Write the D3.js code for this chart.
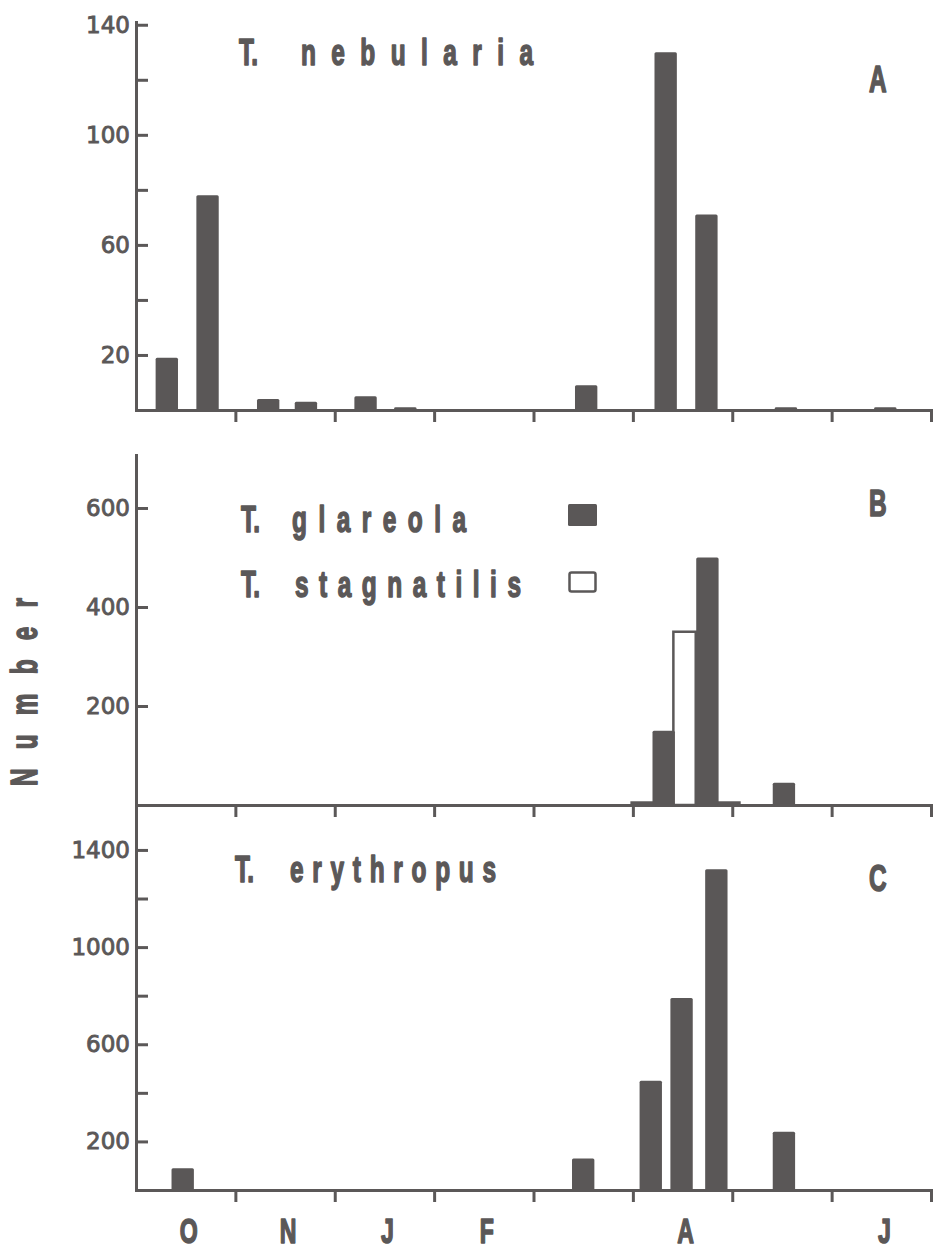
<!DOCTYPE html>
<html>
<head>
<meta charset="utf-8">
<script src="https://cdn.jsdelivr.net/npm/d3@7"></script>
<style>
  html, body { margin: 0; padding: 0; background: #ffffff; }
  svg { display: block; }
</style>
</head>
<body>
<svg id="chart" width="934" height="1253"></svg>
<script>
// Month boundaries on the shared time axis (index 0 = October)
const monthLabels = ["O", "N", "J", "F", "", "A", "", "J"];

// Panel A: T. nebularia (positions in months from the start of October)
const nebulariaPos = [0.31, 0.72, 1.33, 1.71, 2.31, 2.71, 4.53, 5.33, 5.74, 6.54, 7.54];
const nebulariaVal = [19, 78, 4, 3, 5, 1, 9, 130, 71, 1, 1];

// Panel B: T. glareola (filled) and T. stagnatilis (open)
const glareolaPos = [5.31, 5.75, 6.52];
const glareolaVal = [150, 500, 45];
const stagnatilisPos = [5.10, 5.52, 5.96];
const stagnatilisVal = [5, 350, 5];

// Panel C: T. erythropus
const erythropusPos = [0.47, 4.50, 5.18, 5.49, 5.84, 6.52];
const erythropusVal = [90, 130, 450, 790, 1320, 240];

// Axis ticks
const ticksA = [20, 40, 60, 80, 100, 120, 140];
const labelsA = [20, 60, 100, 140];
const ticksB = [200, 400, 600];
const labelsB = [200, 400, 600];
const ticksC = [200, 400, 600, 800, 1000, 1200, 1400];
const labelsC = [200, 600, 1000, 1400];

const ink = "#5b5858";
const barFill = "#5a5757";
const boldFont = "'Liberation Sans','Arial',sans-serif";
const roundFont = "'DejaVu Sans','Noto Sans',sans-serif";
const narrow = 0.66;   // horizontal squeeze for the condensed lettering

const svg = d3.select("#chart");
svg.append("rect").attr("width", 934).attr("height", 1253).attr("fill", "#ffffff");

const x = d3.scaleLinear().domain([0, 8]).range([136, 931]);
const barW = 0.225;
const bw = x(barW) - x(0);

const panels = [
  { y: d3.scaleLinear().domain([0, 141]).range([410, 22]), ticks: ticksA, labels: labelsA },
  { y: d3.scaleLinear().domain([0, 707]).range([805, 455]), ticks: ticksB, labels: labelsB },
  { y: d3.scaleLinear().domain([0, 1585]).range([1190, 805]), ticks: ticksC, labels: labelsC }
];

function styleAxis(g) {
  g.selectAll("path.domain").attr("stroke", ink).attr("stroke-width", 3).attr("stroke-linecap", "square");
  g.selectAll(".tick line").attr("stroke", ink).attr("stroke-width", 3);
  g.selectAll(".tick text").attr("fill", ink).attr("font-family", roundFont).attr("font-size", 23)
    .attr("stroke", ink).attr("stroke-width", 0.9);
}

function drawBars(g, yScale, pos, val) {
  g.selectAll("rect")
    .data(pos.map((p, i) => ({ p, v: val[i] })))
    .enter().append("rect")
    .attr("x", d => x(d.p) - bw / 2)
    .attr("width", bw)
    .attr("y", d => yScale(d.v))
    .attr("height", d => yScale(0) - yScale(d.v))
    .attr("rx", 1.5)
    .attr("fill", barFill);
}

// Condensed bold lettering: squeezed horizontally around its anchor point
function label(tx, ty, str, opts = {}) {
  const size = opts.size || 37;
  const t = svg.append("text")
    .attr("transform", `translate(${tx},${ty})${opts.rotate ? " rotate(" + opts.rotate + ")" : ""} scale(${narrow},1)`)
    .attr("font-family", boldFont)
    .attr("font-weight", "bold")
    .attr("font-size", size)
    .attr("fill", ink)
    .attr("stroke", ink)
    .attr("stroke-width", 1.6)
    .attr("stroke-linejoin", "round")
    .attr("text-anchor", opts.anchor || "start")
    .text(str);
  if (opts.len) t.attr("textLength", opts.len / narrow).attr("lengthAdjust", "spacing");
  return t;
}

// Axes for each panel
panels.forEach(pn => {
  const yAxis = d3.axisLeft(pn.y)
    .tickValues(pn.ticks)
    .tickSize(-12)
    .tickSizeOuter(0)
    .tickPadding(6)
    .tickFormat(d => pn.labels.includes(d) ? d : "");
  const gy = svg.append("g").attr("transform", `translate(${x(0)},0)`).call(yAxis);
  styleAxis(gy);

  const xAxis = d3.axisBottom(x)
    .tickValues(d3.range(1, 9))
    .tickSize(12)
    .tickSizeOuter(0)
    .tickFormat("");
  const gx = svg.append("g").attr("transform", `translate(0,${pn.y(0)})`).call(xAxis);
  styleAxis(gx);
});

// Panel A bars
drawBars(svg.append("g"), panels[0].y, nebulariaPos, nebulariaVal);

// Panel B: open bars first, filled bars over them
const yB = panels[1].y;
svg.append("g").selectAll("rect")
  .data(stagnatilisPos.map((p, i) => ({ p, v: stagnatilisVal[i] })))
  .enter().append("rect")
  .attr("x", d => x(d.p) - bw / 2)
  .attr("width", bw)
  .attr("y", d => yB(d.v))
  .attr("height", d => yB(0) - yB(d.v))
  .attr("fill", "#ffffff")
  .attr("stroke", ink)
  .attr("stroke-width", 2.5);
drawBars(svg.append("g"), yB, glareolaPos, glareolaVal);

// Panel C bars
drawBars(svg.append("g"), panels[2].y, erythropusPos, erythropusVal);

// Month labels under the bottom axis
monthLabels.forEach((m, i) => {
  if (m) label(x(i + 0.5) + 3, 1243, m, { anchor: "middle", size: 35 });
});

// Species titles
function title(tx, nx, by, name, len) {
  label(tx, by, "T.");
  label(nx, by, name, { len });
}
title(239, 301, 65, "nebularia", 232);
title(241, 292, 532, "glareola", 174);
title(241, 295, 597, "stagnatilis", 226);
title(235, 290, 882, "erythropus", 206);

// Legend keys
svg.append("rect").attr("x", 568).attr("y", 504).attr("width", 29).attr("height", 22)
  .attr("rx", 1.5).attr("fill", barFill);
svg.append("rect").attr("x", 569.5).attr("y", 572.5).attr("width", 26).attr("height", 19)
  .attr("rx", 2).attr("fill", "#ffffff").attr("stroke", ink).attr("stroke-width", 2.5);

// Panel letters
[["A", 92], ["B", 516], ["C", 891]].forEach(([t, by]) => label(869, by, t));

// Shared y-axis title
label(37, 692, "Number", { rotate: -90, anchor: "middle", len: 188 });
</script>
</body>
</html>
